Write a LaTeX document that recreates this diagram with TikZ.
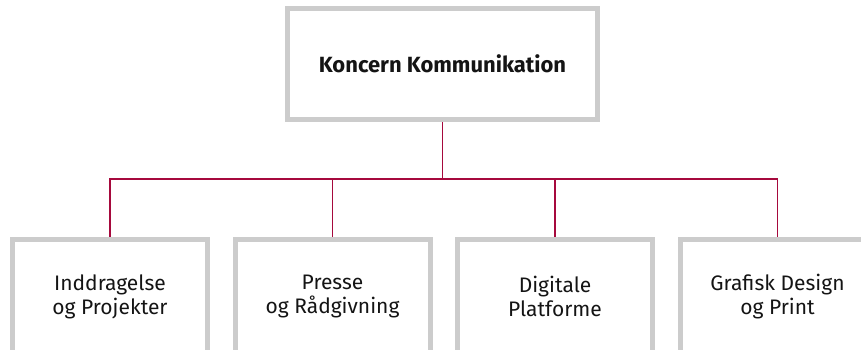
\documentclass[tikz,border=0pt]{standalone}
\usepackage{fontspec}
\setmainfont{Fira Sans}
\usetikzlibrary{positioning}
\definecolor{boxgray}{RGB}{204,204,204}
\definecolor{linkred}{RGB}{166,9,61}
\definecolor{textblack}{RGB}{20,20,20}
\tikzset{%
unit/.style={draw=boxgray,line width=5pt,minimum width=195pt,minimum height=114pt,
             align=center,text=textblack,font=\fontsize{21}{24}\selectfont},
head/.style={unit,minimum width=310pt,minimum height=111pt,
             font=\fontsize{22}{24}\selectfont\bfseries},
link/.style={draw=linkred,line width=1.5pt}
}
\begin{document}
\begin{tikzpicture}
\useasboundingbox (0,0) rectangle (861pt,-349pt);
\node[head]              (koncern) at (442.5pt,-64pt)  {Koncern Kommunikation};
\node[unit]              (inddrag) at (110pt,-296.5pt) {Inddragelse\\og Projekter};
\node[unit,right=22.5pt] (presse)  at (inddrag.east)   {Presse\\og Rådgivning};
\node[unit,right=22.5pt] (digital) at (presse.east)    {Digitale\\Platforme};
\node[unit,right=22.5pt] (grafisk) at (digital.east)   {Grafisk Design\\og Print};
\coordinate (split) at ([yshift=-57pt]koncern.south);
\draw[link] (koncern.south) -- (split);
\foreach \u in {inddrag,presse,digital,grafisk}
  \draw[link] (split) -| (\u.north);
\end{tikzpicture}
\end{document}
